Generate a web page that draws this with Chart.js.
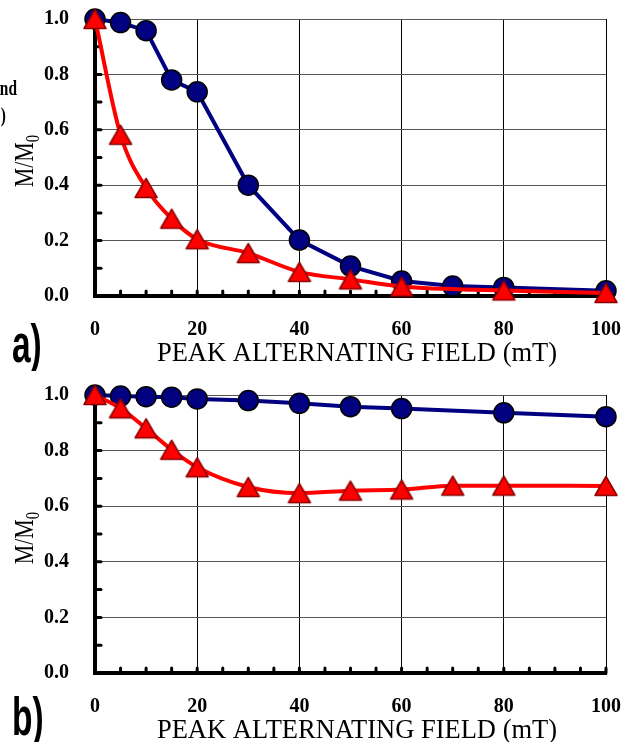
<!DOCTYPE html>
<html><head><meta charset="utf-8">
<script src="https://cdn.jsdelivr.net/npm/chart.js@4"></script>
<style>
html,body{margin:0;padding:0;background:#fff;}
#wrap{position:relative;width:631px;height:742px;overflow:hidden;}
canvas{position:absolute;left:0;}
#ca{top:0}
#cb{top:371px}
</style></head><body>
<div id="wrap"><canvas id="ca" width="631" height="371"></canvas><canvas id="cb" width="631" height="371"></canvas></div>
<script>
// ---- data ----
const fieldA_blue = [0,5,10,15,20,30,40,50,60,70,80,100];
const a_blue      = [1.0,0.987,0.958,0.78,0.737,0.40,0.202,0.108,0.054,0.036,0.031,0.019];
const fieldA_red  = [0,5,10,15,20,30,40,50,60,80,100];
const a_red       = [1.0,0.582,0.39,0.279,0.205,0.155,0.087,0.06,0.034,0.02,0.011];
const fieldB_blue = [0,5,10,15,20,30,40,50,60,80,100];
const b_blue      = [1.0,0.996,0.994,0.992,0.986,0.98,0.97,0.958,0.951,0.936,0.922];
const fieldB_red  = [0,5,10,15,20,30,40,50,60,70,80,100];
const b_red       = [1.0,0.952,0.88,0.803,0.74,0.669,0.647,0.656,0.66,0.674,0.674,0.673];
const xMajorTicks = [0,20,40,60,80,100];
const yMajorTicks = [0.0,0.2,0.4,0.6,0.8,1.0];
const xTitleText = 'PEAK ALTERNATING FIELD (mT)';
const yTitleMain = 'M/M';
const yTitleSub = '0';
const panelLabels = ['a)','b)'];

// triangle marker image (centred on its bounding box)
const triImg = (() => {
  const c = document.createElement('canvas'); c.width = 26; c.height = 24;
  const g = c.getContext('2d');
  const w = 22, h = 19, cx = 13, cy = 12;
  g.beginPath(); g.moveTo(cx, cy - h/2); g.lineTo(cx + w/2, cy + h/2); g.lineTo(cx - w/2, cy + h/2); g.closePath();
  g.fillStyle = '#ff0000'; g.fill(); g.lineWidth = 1.5; g.strokeStyle = '#8b0000'; g.lineJoin = 'round'; g.stroke();
  return c;
})();

const decoPlugin = {
  id: 'deco',
  beforeDatasetsDraw(chart, args, o) {
    const ctx = chart.ctx, xs = chart.scales.x, ys = chart.scales.y, ca = chart.chartArea;
    ctx.save();
    ctx.strokeStyle = '#000'; ctx.lineWidth = 3; ctx.lineCap = 'round';
    xs.ticks.forEach(t => { const px = xs.getPixelForValue(t.value);
      ctx.beginPath(); ctx.moveTo(px, ca.bottom); ctx.lineTo(px, ca.bottom - 5); ctx.stroke(); });
    ys.ticks.forEach(t => { const py = ys.getPixelForValue(t.value);
      ctx.beginPath(); ctx.moveTo(ca.left, py); ctx.lineTo(ca.left + 6, py); ctx.stroke(); });
    ctx.restore();
  },
  afterDraw(chart, args, o) {
    const ctx = chart.ctx;
    ctx.save();
    ctx.fillStyle = '#000';
    ctx.font = '26.5px "Liberation Serif"';
    ctx.textAlign = 'center'; ctx.textBaseline = 'alphabetic';
    ctx.fillText(xTitleText, o.xTitleX, o.xTitleY);
    // rotated y title with subscript
    ctx.save();
    ctx.translate(o.yTitleX, o.yTitleY); ctx.rotate(-Math.PI/2); ctx.scale(0.78, 1);
    ctx.font = '28px "Liberation Serif"'; const w1 = ctx.measureText(yTitleMain).width;
    ctx.font = '19px "Liberation Serif"'; const w2 = ctx.measureText(yTitleSub).width;
    const st = -(w1 + w2) / 2;
    ctx.textAlign = 'left';
    ctx.font = '28px "Liberation Serif"'; ctx.fillText(yTitleMain, st, 0);
    ctx.font = '19px "Liberation Serif"'; ctx.fillText(yTitleSub, st + w1, 6);
    ctx.restore();
    // panel label
    ctx.save();
    ctx.translate(o.panelX, o.panelY); ctx.scale(0.62, 1);
    ctx.font = 'bold 54px "Liberation Sans"'; ctx.textAlign = 'left';
    ctx.fillText(o.panel, 0, 0);
    ctx.restore();
    // cut-off text fragments from neighbouring element
    (o.extras || []).forEach(e => {
      ctx.save(); ctx.translate(e.x, e.y); ctx.scale(0.7, 1);
      ctx.font = 'bold 22px "Liberation Serif"'; ctx.textAlign = 'right';
      ctx.fillText(e.t, 0, 0); ctx.restore();
    });
    ctx.restore();
  }
};

function pts(xs, ys) { return xs.map((x, i) => ({x: x, y: ys[i]})); }

function makeChart(id, redX, redY, blueX, blueY, padTop, xH, decoOpts) {
  return new Chart(document.getElementById(id), {
    type: 'line',
    data: { datasets: [
      { data: pts(redX, redY), borderColor: '#ff0000', borderWidth: 4,
        cubicInterpolationMode: 'monotone', pointStyle: triImg, pointRadius: 12,
        pointBackgroundColor: '#ff0000', pointBorderColor: '#8b0000', pointBorderWidth: 1.5, clip: false },
      { data: pts(blueX, blueY), borderColor: '#000080', borderWidth: 4, tension: 0,
        pointStyle: 'circle', pointRadius: 10,
        pointBackgroundColor: '#000080', pointBorderColor: '#000', pointBorderWidth: 1.5, clip: false }
    ]},
    options: {
      responsive: false, animation: false, devicePixelRatio: 1,
      layout: { padding: { top: padTop, right: 25, left: 0, bottom: 0 } },
      plugins: { legend: { display: false }, tooltip: { enabled: false }, deco: decoOpts },
      scales: {
        x: { type: 'linear', min: 0, max: 100,
          afterFit: s => { s.height = xH; s.paddingLeft = 0; s.paddingRight = 0; },
          border: { display: true, color: '#000', width: 4 },
          grid: { drawTicks: false, lineWidth: 1,
            color: c => xMajorTicks.includes(c.tick.value) ? '#000' : 'rgba(0,0,0,0)' },
          ticks: { stepSize: 5, autoSkip: false, maxRotation: 0, padding: 22, color: '#000',
            font: { family: '"Liberation Serif"', size: 20, weight: 'bold' },
            callback: v => xMajorTicks.includes(v) ? String(v) : '' } },
        y: { min: 0, max: 1,
          afterFit: s => { s.width = 95; s.paddingTop = 0; s.paddingBottom = 0; },
          border: { display: true, color: '#000', width: 4 },
          grid: { drawTicks: false, lineWidth: 1,
            color: c => yMajorTicks.some(t => Math.abs(t - c.tick.value) < 1e-6) ? '#555' : 'rgba(0,0,0,0)' },
          ticks: { stepSize: 0.1, autoSkip: false, padding: 26, color: '#000',
            font: { family: '"Liberation Serif"', size: 20, weight: 'bold' },
            callback: v => yMajorTicks.some(t => Math.abs(t - v) < 1e-6) ? v.toFixed(1) : '' } }
      }
    },
    plugins: [decoPlugin]
  });
}

makeChart('ca', fieldA_red, a_red, fieldA_blue, a_blue, 19, 75,
  { xTitleX: 357, xTitleY: 361, yTitleX: 33, yTitleY: 161, panel: panelLabels[0], panelX: 12, panelY: 362,
    extras: [{t: 'and', x: 17, y: 95}, {t: ')', x: 6, y: 122}] });
makeChart('cb', fieldB_red, b_red, fieldB_blue, b_blue, 24, 69,
  { xTitleX: 357, xTitleY: 367, yTitleX: 33, yTitleY: 167, panel: panelLabels[1], panelX: 12, panelY: 364,
    extras: [] });
</script>
</body></html>
